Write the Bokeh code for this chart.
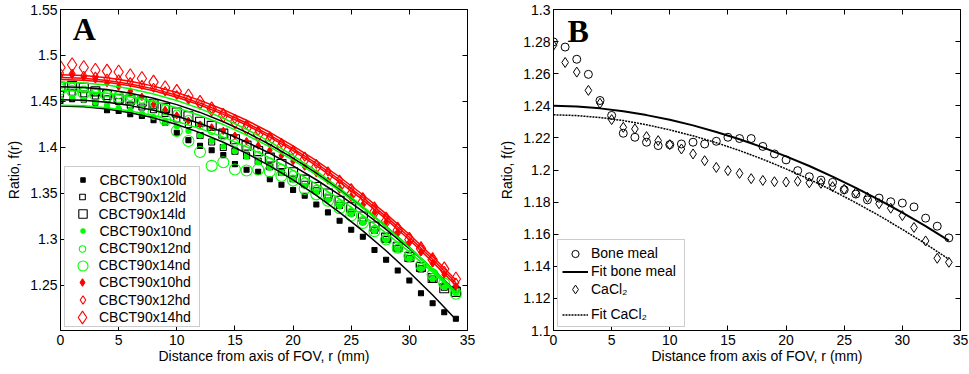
import numpy as np
from bokeh.plotting import figure
from bokeh.layouts import row
from bokeh.models import (LinearAxis, FixedTicker, Legend, LegendItem, Label,
                          Range1d, CustomJSTickFormatter)
from bokeh.embed import file_html
from bokeh.resources import INLINE

# ---------------- data ----------------
R = list(range(35))
FIT_R = [0, 2, 4, 6, 8, 10, 12, 14, 16, 18, 20, 22, 24, 26, 28, 30, 32, 34]

A_10ld = [1.4506, 1.4524, 1.4520, 1.4487, 1.4405, 1.4397, 1.4361, 1.4343, 1.4296, 1.4270,
          1.4160, 1.4080, 1.4017, 1.3970, 1.3917, 1.3819, 1.3757, 1.3735, 1.3656, 1.3594,
          1.3537, 1.3475, 1.3380, 1.3294, 1.3204, 1.3106, 1.3030, 1.2886, 1.2780, 1.2662,
          1.2553, 1.2415, 1.2307, 1.2209, 1.2138]
A_12ld = [1.458, 1.460, 1.458, 1.456, 1.453, 1.450, 1.446, 1.444, 1.441, 1.437,
          1.431, 1.425, 1.413, 1.406, 1.400, 1.396, 1.391, 1.385, 1.379, 1.373,
          1.366, 1.360, 1.353, 1.345, 1.337, 1.329, 1.320, 1.310, 1.300, 1.290,
          1.279, 1.268, 1.257, 1.248, 1.246]
A_14ld = [1.466, 1.467, 1.465, 1.461, 1.457, 1.453, 1.452, 1.450, 1.447, 1.443,
          1.438, 1.434, 1.428, 1.4235, 1.415, 1.409, 1.402, 1.396, 1.389, 1.382,
          1.373, 1.365, 1.357, 1.350, 1.342, 1.335, 1.325, 1.314, 1.302, 1.292,
          1.281, 1.270, 1.258, 1.247, 1.243]
A_10nd = [1.452, 1.454, 1.452, 1.449, 1.446, 1.443, 1.440, 1.437, 1.433, 1.428,
          1.423, 1.418, 1.413, 1.407, 1.401, 1.396, 1.390, 1.384, 1.378, 1.372,
          1.365, 1.358, 1.351, 1.343, 1.336, 1.327, 1.318, 1.309, 1.299, 1.289,
          1.279, 1.268, 1.257, 1.248, 1.242]
A_12nd = [1.468, 1.466, 1.463, 1.461, 1.459, 1.457, 1.455, 1.452, 1.448, 1.443,
          1.437, 1.431, 1.424, 1.418, 1.412, 1.405, 1.399, 1.392, 1.385, 1.378,
          1.371, 1.363, 1.355, 1.347, 1.339, 1.330, 1.321, 1.311, 1.301, 1.291,
          1.281, 1.270, 1.259, 1.250, 1.243]
A_14nd = [1.4632, 1.4614, 1.459, 1.457, 1.456, 1.455, 1.452, 1.4505, 1.438, 1.430,
          1.418, 1.407, 1.395, 1.380, 1.384, 1.376, 1.375, 1.376, 1.374, 1.369,
          1.364, 1.355, 1.349, 1.342, 1.334, 1.326, 1.318, 1.309, 1.300, 1.291,
          1.282, 1.272, 1.262, 1.252, 1.241]
A_10hd = [1.478, 1.479, 1.476, 1.474, 1.470, 1.466, 1.461, 1.455, 1.447, 1.441,
          1.435, 1.429, 1.425, 1.422, 1.418, 1.413, 1.407, 1.402, 1.397, 1.391,
          1.385, 1.379, 1.372, 1.364, 1.356, 1.347, 1.338, 1.329, 1.319, 1.308,
          1.297, 1.286, 1.274, 1.262, 1.249]
A_12hd = [1.481, 1.480, 1.478, 1.477, 1.475, 1.474, 1.471, 1.468, 1.465, 1.461,
          1.457, 1.452, 1.447, 1.442, 1.437, 1.431, 1.425, 1.418, 1.412, 1.405,
          1.397, 1.390, 1.382, 1.374, 1.365, 1.356, 1.346, 1.336, 1.325, 1.314,
          1.303, 1.291, 1.279, 1.266, 1.253]
A_14hd = [1.487, 1.490, 1.487, 1.484, 1.483, 1.482, 1.478, 1.475, 1.471, 1.465,
          1.461, 1.456, 1.449, 1.442, 1.435, 1.428, 1.421, 1.414, 1.408, 1.401,
          1.394, 1.387, 1.379, 1.369, 1.358, 1.349, 1.341, 1.330, 1.320, 1.310,
          1.300, 1.290, 1.278, 1.268, 1.257]

F_10ld = [1.4450, 1.4442, 1.4418, 1.4378, 1.4322, 1.4249, 1.4161, 1.4057, 1.3936,
          1.3800, 1.3647, 1.3479, 1.3294, 1.3093, 1.2877, 1.2644, 1.2395, 1.2130]
F_12ld = [1.4520, 1.4513, 1.4491, 1.4455, 1.4405, 1.4340, 1.4261, 1.4167, 1.4059,
          1.3937, 1.3800, 1.3649, 1.3484, 1.3304, 1.3109, 1.2901, 1.2678, 1.2440]
F_14ld = [1.4660, 1.4652, 1.4629, 1.4590, 1.4536, 1.4466, 1.4381, 1.4280, 1.4164,
          1.4032, 1.3885, 1.3722, 1.3544, 1.3350, 1.3141, 1.2916, 1.2676, 1.2420]
F_10nd = [1.4460, 1.4453, 1.4432, 1.4396, 1.4347, 1.4283, 1.4205, 1.4112, 1.4006,
          1.3885, 1.3751, 1.3602, 1.3439, 1.3261, 1.3070, 1.2864, 1.2644, 1.2410]
F_12nd = [1.4620, 1.4612, 1.4590, 1.4552, 1.4499, 1.4431, 1.4347, 1.4249, 1.4135,
          1.4006, 1.3862, 1.3703, 1.3529, 1.3339, 1.3135, 1.2915, 1.2680, 1.2430]
F_14nd = [1.4710, 1.4702, 1.4678, 1.4638, 1.4582, 1.4510, 1.4422, 1.4318, 1.4198,
          1.4063, 1.3911, 1.3743, 1.3559, 1.3359, 1.3143, 1.2912, 1.2664, 1.2400]
F_10hd = [1.4740, 1.4732, 1.4709, 1.4670, 1.4616, 1.4546, 1.4461, 1.4360, 1.4244,
          1.4112, 1.3965, 1.3802, 1.3624, 1.3430, 1.3221, 1.2996, 1.2756, 1.2500]
F_12hd = [1.4760, 1.4752, 1.4729, 1.4691, 1.4637, 1.4567, 1.4482, 1.4382, 1.4266,
          1.4135, 1.3988, 1.3826, 1.3649, 1.3456, 1.3248, 1.3024, 1.2785, 1.2530]
F_14hd = [1.4790, 1.4782, 1.4759, 1.4721, 1.4667, 1.4597, 1.4512, 1.4412, 1.4296,
          1.4165, 1.4018, 1.3856, 1.3679, 1.3486, 1.3278, 1.3054, 1.2815, 1.2560]

B_bone = [1.2798, 1.2766, 1.2690, 1.2596, 1.2433, 1.2340, 1.2229, 1.2204, 1.2173, 1.2152,
          1.2158, 1.2162, 1.2173, 1.2162, 1.2179, 1.2204, 1.2196, 1.2196, 1.2147, 1.2100,
          1.2063, 1.1996, 1.1958, 1.1937, 1.1923, 1.1877, 1.1850, 1.1814, 1.1825, 1.1802,
          1.1794, 1.1770, 1.1700, 1.1650, 1.1577]
B_cacl = [1.2777, 1.2670, 1.2610, 1.2496, 1.2416, 1.2314, 1.2266, 1.2256, 1.2208, 1.2183,
          1.2158, 1.2131, 1.2100, 1.2058, 1.2016, 1.1996, 1.1979, 1.1946, 1.1935, 1.1927,
          1.1925, 1.1930, 1.1920, 1.1917, 1.1896, 1.1880, 1.1860, 1.1830, 1.1790, 1.1762,
          1.1716, 1.1642, 1.1558, 1.1450, 1.1425]
B_fit_bone = [1.2400, 1.2396, 1.2384, 1.2366, 1.2342, 1.2313, 1.2278, 1.2237, 1.2192,
              1.2141, 1.2085, 1.2025, 1.1959, 1.1889, 1.1814, 1.1734, 1.1650, 1.1560]
B_fit_cacl = [1.2344, 1.2339, 1.2327, 1.2308, 1.2282, 1.2250, 1.2213, 1.2170, 1.2121,
              1.2067, 1.2007, 1.1942, 1.1872, 1.1796, 1.1716, 1.1630, 1.1540, 1.1444]

X_TICKS = [0, 5, 10, 15, 20, 25, 30, 35]
A_Y_TICKS = [1.25, 1.3, 1.35, 1.4, 1.45, 1.5, 1.55]
B_Y_TICKS = [1.1, 1.12, 1.14, 1.16, 1.18, 1.2, 1.22, 1.24, 1.26, 1.28, 1.3]

A_LABELS = ["CBCT90x10ld", "CBCT90x12ld", "CBCT90x14ld",
            "CBCT90x10nd", "CBCT90x12nd", "CBCT90x14nd",
            "CBCT90x10hd", "CBCT90x12hd", "CBCT90x14hd"]
B_LABELS = ["Bone meal", "Fit bone meal", "CaCl\u2082", "Fit CaCl\u2082"]

FONT = "Liberation Sans"
BLACK, GREEN, RED = "#000000", "#00ff00", "#ff0000"

FMT = CustomJSTickFormatter(code="return (Math.round(tick*100)/100).toString();")
BLANK = CustomJSTickFormatter(code="return '';")


def make_fig(width, left, right, top, xr, yr, yticks):
    p = figure(width=width, height=374, x_range=xr, y_range=yr,
               output_backend="svg", toolbar_location=None,
               min_border_left=left, min_border_right=right,
               min_border_top=top, min_border_bottom=44)
    p.xgrid.visible = False
    p.ygrid.visible = False
    p.outline_line_color = "black"
    p.outline_line_width = 1
    p.outline_line_alpha = 1
    p.background_fill_color = "white"
    p.border_fill_color = "white"
    for ax, ticks in ((p.xaxis[0], X_TICKS), (p.yaxis[0], yticks)):
        ax.ticker = FixedTicker(ticks=ticks)
        ax.formatter = FMT
        ax.major_tick_in = 5
        ax.major_tick_out = 0
        ax.minor_tick_in = 0
        ax.minor_tick_out = 0
        ax.axis_line_color = "black"
        ax.major_tick_line_color = "black"
        ax.major_label_text_font = FONT
        ax.major_label_text_font_size = "14px"
        ax.major_label_text_color = "black"
        ax.axis_label_text_font = FONT
        ax.axis_label_text_font_size = "14px"
        ax.axis_label_text_font_style = "normal"
        ax.axis_label_text_color = "black"
    p.xaxis[0].major_label_standoff = 4
    p.xaxis[0].axis_label_standoff = 0
    p.yaxis[0].major_label_standoff = 3
    p.yaxis[0].axis_label_standoff = 5
    p.xaxis[0].axis_label = "Distance from axis of FOV, r (mm)"
    p.yaxis[0].axis_label = "Ratio, f(r)"
    for loc, ticks in (("above", X_TICKS), ("right", yticks)):
        ax = LinearAxis(ticker=FixedTicker(ticks=ticks), formatter=BLANK,
                        major_label_text_font_size="1px",
                        major_label_text_color=None,
                        major_label_standoff=0,
                        major_tick_in=5, major_tick_out=0,
                        minor_tick_in=0, minor_tick_out=0,
                        axis_line_color=None, major_tick_line_color="black")
        p.add_layout(ax, loc)
    return p


def box_legend(p, n_rows, dummy, loc, padding, row_h, inner_w):
    # legend frame only: empty labels, width set by the glyph area
    lg = Legend(items=[LegendItem(label="", renderers=[dummy]) for _ in range(n_rows)],
                location=loc, padding=padding, spacing=0, margin=0,
                label_height=row_h, glyph_height=row_h, glyph_width=inner_w,
                label_standoff=0, label_width=0,
                label_text_font=FONT, label_text_font_size="14px",
                label_text_color=None,
                border_line_color="#999999", border_line_width=1,
                background_fill_color="white", background_fill_alpha=1)
    p.add_layout(lg)


def item_legend(p, label, rend, cx, cy, text_x, gw, gh):
    gw_i = int(round(gw))
    gh_i = int(round(gh))
    lx = cx - gw_i / 2.0
    lg = Legend(items=[LegendItem(label=label, renderers=[rend])],
                location=(lx, cy - gh_i / 2.0), padding=0, spacing=0, margin=0,
                label_height=gh_i, glyph_height=gh_i, glyph_width=gw_i,
                label_standoff=max(0, int(round(text_x - lx - gw_i))),
                label_text_font=FONT, label_text_font_size="14px",
                label_text_color="black",
                border_line_color=None, background_fill_alpha=0)
    p.add_layout(lg)


# ---------------- panel A ----------------
pa = make_fig(480, 60, 13, 8, Range1d(0, 35), Range1d(1.201, 1.55), A_Y_TICKS)

series = [  # values, marker, plot size, legend size, colour, filled
    (A_10ld, "square", 5, 4.5, BLACK, True),
    (A_12ld, "square", 6, 5.5, BLACK, False),
    (A_14ld, "square", 9, 8.5, BLACK, False),
    (A_10nd, "circle", 5, 4.5, GREEN, True),
    (A_12nd, "circle", 7, 6.5, GREEN, False),
    (A_14nd, "circle", 11, 10, GREEN, False),
    (A_10hd, "diamond", 7, 7, RED, True),
    (A_12hd, "diamond", 9, 8.5, RED, False),
    (A_14hd, "diamond", 14, 13, RED, False),
]
fits = [(F_10ld, BLACK), (F_12ld, BLACK), (F_14ld, BLACK),
        (F_10nd, GREEN), (F_12nd, GREEN), (F_14nd, GREEN),
        (F_10hd, RED), (F_12hd, RED), (F_14hd, RED)]

renderers = []
for vals, marker, size, lsize, col, filled in series:
    r = pa.scatter(R, vals, marker=marker, size=size, line_color=col,
                   fill_color=col if filled else None, line_width=1.1)
    renderers.append(r)
for vals, col in fits:
    pa.line(FIT_R, vals, line_color=col, line_width=1.5)

dummy_a = pa.scatter([], [], marker="square", line_alpha=0, fill_alpha=0)
box_legend(pa, len(A_LABELS), dummy_a, (4, 3), 3, 17, 128)
for k, (lab, rend, s) in enumerate(zip(A_LABELS, renderers, [sr[3] for sr in series])):
    gw = 2.5 * s
    gh = max(17.0, gw)
    cy = 13.3 + 17.15 * (8 - k)
    item_legend(pa, lab, rend, 22, cy, 39, gw, gh)

pa.add_layout(Label(x=1.05, y=1.5283, text="A", text_font="Liberation Serif",
                    text_font_style="bold", text_font_size="32px", text_color="black",
                    text_baseline="alphabetic"))

# ---------------- panel B ----------------
pb = make_fig(489, 73, 9, 9, Range1d(0, 35), Range1d(1.1, 1.3), B_Y_TICKS)

rb1 = pb.scatter(R, B_bone, marker="circle", size=8, line_color=BLACK, fill_color=None, line_width=1)
rb2 = pb.line(FIT_R, B_fit_bone, line_color=BLACK, line_width=2)
rb3 = pb.scatter(R, B_cacl, marker="diamond", size=10, line_color=BLACK, fill_color=None, line_width=1)
rb4 = pb.line(FIT_R, B_fit_cacl, line_color=BLACK, line_width=1.5, line_dash="2 1")

dummy_b = pb.scatter([], [], marker="circle", line_alpha=0, fill_alpha=0)
box_legend(pb, len(B_LABELS), dummy_b, (4, 3), 5, 19, 116)
b_items = [(B_LABELS[0], rb1, 17.5, 19, 77),
           (B_LABELS[1], rb2, 26, 19, 59),
           (B_LABELS[2], rb3, 22.5, 22.5, 41),
           (B_LABELS[3], rb4, 26, 19, 16)]
for lab, rend, gw, gh, cy in b_items:
    item_legend(pb, lab, rend, 22, cy, 38, gw, gh)

pb.add_layout(Label(x=1.2, y=1.2865, text="B", text_font="Liberation Serif",
                    text_font_style="bold", text_font_size="32px", text_color="black",
                    text_baseline="alphabetic"))

layout = row(pa, pb)
open("out.html", "w").write(file_html(layout, INLINE))
